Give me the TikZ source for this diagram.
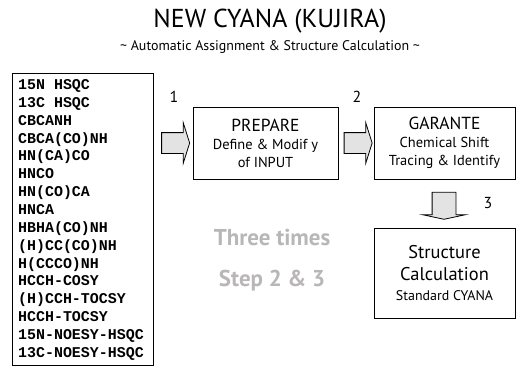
\documentclass[tikz,border=0pt]{standalone}
\usepackage{fontspec}
\setmainfont{PT Sans}
\setmonofont{Liberation Mono}
\usepackage[usenames, dvipsnames]{xcolor}
\usetikzlibrary{shapes.arrows}
\tikzset{
	stagebox/.style={draw=black, line width=0.9pt, minimum width=141bp, minimum height=72bp, inner sep=0pt, align=center, font=\fontsize{14.5}{18}\selectfont},
	blockarrow/.style={draw=black, line width=0.8pt, fill=Gray!25, single arrow, single arrow head extend=10bp, single arrow tip angle=145, minimum height=28bp, inner sep=10bp},
	listitem/.style={anchor=base west, inner sep=0pt, font=\ttfamily\bfseries\fontsize{15}{15}\selectfont},
	steplabel/.style={font=\fontsize{16}{16}\selectfont},
	repeatnote/.style={Gray!65, font=\bfseries\fontsize{23}{23}\selectfont}
}

\begin{document}
\begin{tikzpicture}[x=1bp, y=-1bp]
		\useasboundingbox (0, 0) rectangle (521, 369);
		% The title and the subtitle
		\node (title) at (270, 21) {\fontsize{26}{26}\selectfont NEW CYANA (KUJIRA)};
		\node (subtitle) at (270, 47) {\fontsize{14}{14}\selectfont \textasciitilde{} Automatic Assignment \& Structure Calculation \textasciitilde};
		% The list of the spectra
		\draw [line width=0.9pt] (12, 73) rectangle (153, 365);
		\foreach \spec [count=\i] in {15N HSQC, 13C HSQC, CBCANH, CBCA(CO)NH, HN(CA)CO, HNCO, HN(CO)CA, HNCA, HBHA(CO)NH, (H)CC(CO)NH, H(CCCO)NH, HCCH-COSY, (H)CCH-TOCSY, HCCH-TOCSY, 15N-NOESY-HSQC, 13C-NOESY-HSQC}
			\node [listitem] (spec\i) at (18, {89.5+17.85*(\i-1)}) {\spec};
		% Step 1, PREPARE
		\node [stagebox, minimum width=145bp] (prepare) at (265.5, 143) {{\fontsize{17.5}{18}\selectfont PREPARE}\\ Define \& Modif y\\ of INPUT};
		\node [blockarrow] (arrowA) at (174, 143) {};
		\node [steplabel] (labelA) at (174, 97) {1};
		% Step 2, GARANTE
		\node [stagebox] (garante) at (444.5, 143) {{\fontsize{17.5}{18}\selectfont GARANTE}\\ Chemical Shift\\ Tracing \& Identify};
		\node [blockarrow] (arrowB) at (356.5, 143) {};
		\node [steplabel] (labelB) at (357, 97) {2};
		% Step 3, the structure calculation
		\node [stagebox, minimum height=90bp, font=\fontsize{14}{20}\selectfont] (structure) at (444.5, 273) {{\fontsize{18.5}{20}\selectfont Structure}\\[3bp] {\fontsize{18.5}{20}\selectfont Calculation}\\ Standard CYANA};
		\node [blockarrow, shape border rotate=270, minimum height=27bp, inner sep=11.5bp, single arrow head extend=9.5bp, single arrow tip angle=156] (arrowC) at (444, 204.5) {};
		\node [steplabel] (labelC) at (488, 203) {3};
		% The repetition of step 2 and step 3
		\node [repeatnote] (timesA) at (272, 238) {Three times};
		\node [repeatnote] (timesB) at (272, 281) {Step 2 \& 3};
	\end{tikzpicture}
\end{document}
